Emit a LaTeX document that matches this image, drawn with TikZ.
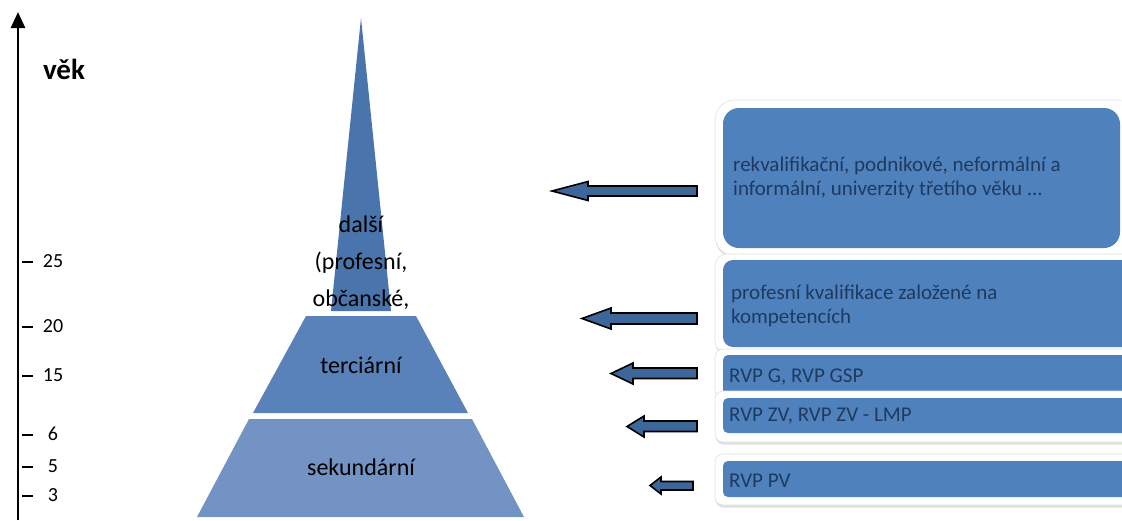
\documentclass[tikz,border=0pt]{standalone}
\usepackage{fontspec}
\setmainfont{Carlito}
\usetikzlibrary{arrows.meta,shadows}
\definecolor{spire}{HTML}{4A75AC}
\definecolor{terc}{HTML}{5A82BA}
\definecolor{sek}{HTML}{7293C4}
\definecolor{boxblue}{HTML}{4F81BD}
\definecolor{arrowblue}{HTML}{3D6699}
\definecolor{boxtxt}{HTML}{1F3A5F}
\begin{document}
\begin{tikzpicture}[x=1pt,y=-1pt,
  barrow/.style={fill=arrowblue,draw=black,line width=1.6pt,line join=miter},
  frame/.style={fill=white,draw=black!12,line width=0.6pt,drop shadow={shadow xshift=0.5pt,shadow yshift=-2.5pt,opacity=0.25}},
  bluebox/.style={fill=boxblue},
  boxtext/.style={text=boxtxt,font=\fontsize{21}{24}\selectfont,align=left,anchor=west,inner sep=0pt},
  pyrtext/.style={text=black,font=\fontsize{24}{37}\selectfont,align=center,inner sep=0pt},
  ticklabel/.style={font=\fontsize{20}{22}\selectfont,inner sep=0pt},
  tickmark/.style={line width=2.5pt},
  axisline/.style={line width=2.6pt,-{Triangle[length=16pt,width=14pt]}}]
\useasboundingbox (0,0) rectangle (1122,520);

% axis
\coordinate (axb) at (18,520);
\coordinate (axt) at (18,12);
\draw[axisline] (axb) -- (axt);
\node[font=\fontsize{29}{30}\selectfont\bfseries,inner sep=0pt] (vek) at (64,69) {věk};
\foreach \v/\y [count=\i] in {25/262,20/327,15/376,6/435,5/467,3/496}{
  \draw[tickmark] (22,\y) -- (33,\y);
  \node[ticklabel] (t\i) at (53,\y-1) {\v};
}

% pyramid
\fill[spire] (361,18) -- (391,311) -- (331,311) -- cycle;
\fill[terc] (306,316) -- (416,316) -- (468,413) -- (253,413) -- cycle;
\fill[sek] (249,419) -- (472,419) -- (524,517) -- (197,517) -- cycle;
\node[pyrtext] (dalsi) at (361,263) {další\\(profesní,\\občanské,};
\node[pyrtext] (terciarni) at (361,365) {terciární};
\node[pyrtext] (sekundarni) at (361,467) {sekundární};

% boxes
\fill[frame,rounded corners=20pt] (715,100) rectangle (1140,256);
\fill[bluebox,rounded corners=16pt] (723,108) rectangle (1120,248);
\node[boxtext] (b1) at (733,178) {rekvalifikační, podnikové, neformální a\\informální, univerzity třetího věku ...};

\fill[frame,rounded corners=12pt] (715,254) rectangle (1140,353);
\fill[bluebox,rounded corners=10pt] (723,260) rectangle (1140,347);
\node[boxtext] (b2) at (731,306) {profesní kvalifikace založené na\\kompetencích};

\fill[frame,rounded corners=8pt] (715,349) rectangle (1140,398);
\fill[bluebox,rounded corners=5pt] (723,355) rectangle (1140,399);
\node[boxtext] (b3) at (729,377) {RVP G, RVP GSP};

\fill[frame,rounded corners=8pt] (715,391) rectangle (1140,442);
\fill[bluebox,rounded corners=5pt] (723,398) rectangle (1140,433);
\node[boxtext] (b4) at (729,416) {RVP ZV, RVP ZV - LMP};

\fill[frame,rounded corners=8pt] (715,454) rectangle (1140,505);
\fill[bluebox,rounded corners=5pt] (723,461) rectangle (1140,497);
\node[boxtext] (b5) at (729,481) {RVP PV};

% block arrows
\draw[barrow] (552,191) -- (588,181.5) -- (588,186) -- (697,186) -- (697,196) -- (588,196) -- (588,200.5) -- cycle;
\draw[barrow] (582,318.5) -- (611,308) -- (611,313) -- (697,313) -- (697,324) -- (611,324) -- (611,329) -- cycle;
\draw[barrow] (611,373.5) -- (633,363) -- (633,368) -- (697,368) -- (697,378.5) -- (633,378.5) -- (633,384) -- cycle;
\draw[barrow] (627,426.5) -- (644,416) -- (644,421) -- (697,421) -- (697,431.5) -- (644,431.5) -- (644,437) -- cycle;
\draw[barrow] (650,485.5) -- (661,477) -- (661,481.5) -- (693,481.5) -- (693,490) -- (661,490) -- (661,494) -- cycle;
\end{tikzpicture}
\end{document}
